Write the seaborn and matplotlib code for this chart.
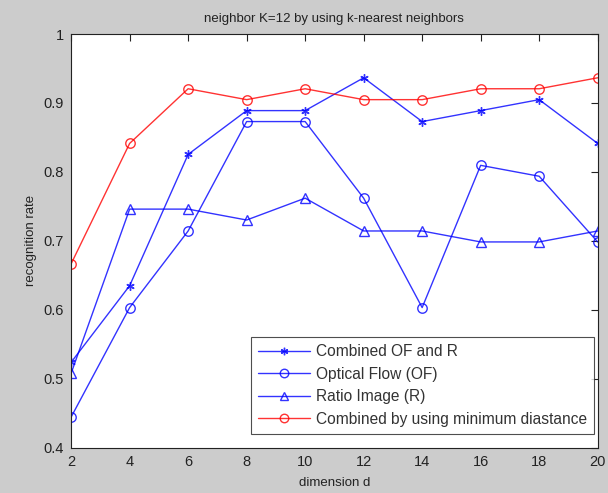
import matplotlib
matplotlib.use("Agg")
import matplotlib.pyplot as plt
import seaborn as sns
import pandas as pd

dims = [2, 4, 6, 8, 10, 12, 14, 16, 18, 20]
combined_of_r = [0.5238, 0.6349, 0.8254, 0.8889, 0.8889, 0.9365, 0.8730, 0.8889, 0.9048, 0.8413]
optical_flow = [0.4444, 0.6032, 0.7143, 0.8730, 0.8730, 0.7619, 0.6032, 0.8095, 0.7937, 0.6984]
ratio_image = [0.5079, 0.7460, 0.7460, 0.7302, 0.7619, 0.7143, 0.7143, 0.6984, 0.6984, 0.7143]
combined_min = [0.6667, 0.8413, 0.9206, 0.9048, 0.9206, 0.9048, 0.9048, 0.9206, 0.9206, 0.9365]
labels = ["Combined OF and R", "Optical Flow (OF)", "Ratio Image (R)",
          "Combined by using minimum diastance"]
xticks = [2, 4, 6, 8, 10, 12, 14, 16, 18, 20]
yticks = [0.4, 0.5, 0.6, 0.7, 0.8, 0.9, 1.0]
ytick_labels = ["0.4", "0.5", "0.6", "0.7", "0.8", "0.9", "1"]

sns.set_style("white")
plt.rcParams['font.family'] = ['Liberation Sans', 'DejaVu Sans']

fig = plt.figure(figsize=(6.08, 4.93), dpi=100, facecolor="#cccccc")
ax = fig.add_axes([0.117, 0.092, 0.866, 0.839])
ax.set_facecolor("white")

series = [combined_of_r, optical_flow, ratio_image, combined_min]
colors = ["#0000ff", "#0000ff", "#0000ff", "#ff0000"]
markers = [(6, 2, 0), "o", "^", "o"]
msizes = [6, 6.8, 7, 6.8]

for vals, lab, c, m, ms in zip(series, labels, colors, markers, msizes):
    df = pd.DataFrame({"d": dims, "rate": vals})
    sns.lineplot(data=df, x="d", y="rate", ax=ax, color=c, marker=m,
                 markersize=ms, markerfacecolor="none", markeredgecolor=c,
                 markeredgewidth=1.0, linewidth=1.0, label=lab, alpha=0.8)

ax.set_xlim(2, 20)
ax.set_ylim(0.4, 1.0)
ax.set_xticks(xticks)
ax.set_xticklabels([str(t) for t in xticks])
ax.set_yticks(yticks)
ax.set_yticklabels(ytick_labels)
ax.tick_params(direction="in", length=5, width=0.8, top=True, right=True,
               labelsize=10.5, colors="#222222", labelcolor="#222222", pad=5)
for s in ax.spines.values():
    s.set_visible(True)
    s.set_color("#222222")
    s.set_linewidth(0.8)

ax.set_xlabel("dimension d", fontsize=9.5, color="#222222", labelpad=6)
ax.set_ylabel("recognition rate", fontsize=9.5, color="#222222", labelpad=5)
ax.set_title("neighbor K=12 by using k-nearest neighbors", fontsize=9.5,
             color="#222222", pad=9)

leg = ax.legend(loc="lower right", bbox_to_anchor=(0.993, 0.034),
                fontsize=11.2, frameon=True, fancybox=False,
                edgecolor="#222222", borderaxespad=0.0, handlelength=3.3,
                labelspacing=0.48, borderpad=0.45, handletextpad=0.4,
                markerscale=0.9)
leg.get_frame().set_linewidth(0.8)
for t in leg.get_texts():
    t.set_color("#333333")

fig.savefig("out.png", dpi=100, facecolor=fig.get_facecolor())
